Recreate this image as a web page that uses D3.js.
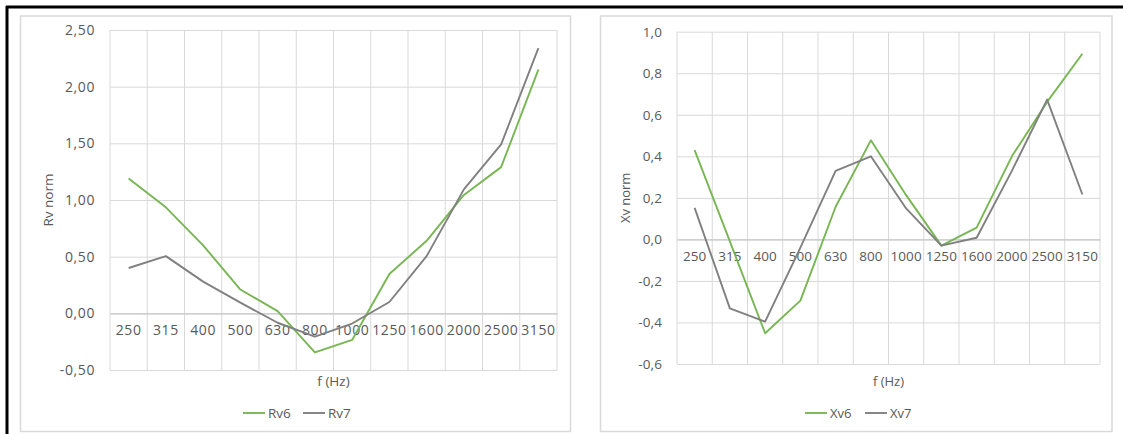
<!DOCTYPE html>
<html>
<head>
<meta charset="utf-8">
<script src="https://cdn.jsdelivr.net/npm/d3@7"></script>
<style>
  html, body { margin: 0; padding: 0; background: #fff; }
  svg { display: block; }
  text { font-family: "Open Sans", "DejaVu Sans", sans-serif; fill: #595959; }
</style>
</head>
<body>
<svg id="fig" width="1123" height="434"></svg>
<script>
// Third-octave band centre frequencies (Hz)
const categories = ["250", "315", "400", "500", "630", "800", "1000", "1250", "1600", "2000", "2500", "3150"];

// Normalised resistance
const rv6 = [1.19, 0.935, 0.60, 0.21, 0.02, -0.345, -0.235, 0.347, 0.64, 1.045, 1.29, 2.15];
const rv7 = [0.40, 0.505, 0.28, 0.094, -0.083, -0.205, -0.09, 0.10, 0.505, 1.094, 1.49, 2.34];

// Normalised reactance
const xv6 = [0.43, -0.01, -0.452, -0.295, 0.157, 0.477, 0.213, -0.03, 0.057, 0.40, 0.662, 0.894];
const xv7 = [0.152, -0.332, -0.396, -0.04, 0.33, 0.40, 0.149, -0.03, 0.008, 0.33, 0.673, 0.216];

// Value-axis ticks
const rvTicks = [-0.5, 0, 0.5, 1.0, 1.5, 2.0, 2.5];
const xvTicks = [-0.6, -0.4, -0.2, 0, 0.2, 0.4, 0.6, 0.8, 1.0];

const GREEN = "#78b654";
const GREY = "#808080";
const GRID = "#d9d9d9";

// decimal comma, plain hyphen for negatives
const locale = d3.formatLocale({ decimal: ",", thousands: ".", grouping: [3], currency: ["", ""], minus: "-" });

const svg = d3.select("#fig");

// Outer frame (top and left edges)
svg.append("line").attr("x1", 6).attr("x2", 1123).attr("y1", 7).attr("y2", 7)
  .attr("stroke", "#000").attr("stroke-width", 3);
svg.append("line").attr("x1", 7).attr("x2", 7).attr("y1", 6).attr("y2", 434)
  .attr("stroke", "#000").attr("stroke-width", 3);

function drawChart(cfg) {
  const g = svg.append("g");

  // chart area box
  g.append("rect")
    .attr("x", cfg.box[0]).attr("y", cfg.box[1])
    .attr("width", cfg.box[2] - cfg.box[0]).attr("height", cfg.box[3] - cfg.box[1])
    .attr("fill", "#fff").attr("stroke", GRID).attr("stroke-width", 1.5);

  const x = d3.scaleBand().domain(categories).range([cfg.plot.left, cfg.plot.right]).padding(0);
  const y = d3.scaleLinear().domain(cfg.domain).range([cfg.plot.bottom, cfg.plot.top]);
  const fmt = locale.format(cfg.fmt);

  // horizontal gridlines + value labels
  const yAxis = d3.axisLeft(y).tickValues(cfg.ticks).tickFormat(fmt)
    .tickSize(-(cfg.plot.right - cfg.plot.left)).tickPadding(15);
  const ya = g.append("g").attr("transform", `translate(${cfg.plot.left},0)`).call(yAxis);
  ya.select(".domain").remove();
  ya.selectAll(".tick line").attr("stroke", GRID).attr("stroke-width", 1);
  ya.selectAll(".tick text")
    .style("font-size", cfg.fontSize + "px")
    .style("letter-spacing", cfg.ls + "px")
    .attr("fill", "#595959");

  // vertical gridlines on band edges
  const edges = categories.map(c => x(c)).concat([cfg.plot.right]);
  g.append("g").selectAll("line").data(edges).join("line")
    .attr("x1", d => d).attr("x2", d => d)
    .attr("y1", cfg.plot.top).attr("y2", cfg.plot.bottom)
    .attr("stroke", GRID).attr("stroke-width", 1);

  // category axis crossing at zero
  const xAxis = d3.axisBottom(x).tickSize(0).tickPadding(12);
  const xa = g.append("g").attr("transform", `translate(0,${y(0)})`).call(xAxis);
  xa.select(".domain").attr("stroke", "#c8c8c8").attr("stroke-width", 1.3);
  xa.selectAll(".tick text")
    .style("font-size", cfg.fontSize + "px")
    .style("letter-spacing", cfg.ls + "px")
    .attr("fill", "#595959");

  // series lines
  const line = d3.line().x((d, i) => x(categories[i]) + x.bandwidth() / 2).y(d => y(d));
  cfg.series.forEach(s => {
    g.append("path").datum(s.values)
      .attr("d", line)
      .attr("fill", "none")
      .attr("stroke", s.color)
      .attr("stroke-width", 1.9)
      .attr("stroke-linejoin", "round");
  });

  // axis titles
  const cx = (cfg.plot.left + cfg.plot.right) / 2;
  const cy = (cfg.plot.top + cfg.plot.bottom) / 2;
  g.append("text")
    .attr("transform", `translate(${cfg.yTitleX},${cy}) rotate(-90)`)
    .attr("text-anchor", "middle").attr("dy", "0.35em")
    .style("font-size", (cfg.fontSize - 0.5) + "px")
    .text(cfg.yTitle);
  g.append("text")
    .attr("x", cx).attr("y", 381).attr("dy", "0.35em")
    .attr("text-anchor", "middle")
    .style("font-size", (cfg.fontSize - 0.5) + "px")
    .text("f (Hz)");

  // legend
  const lg = g.append("g").attr("transform", `translate(${cfg.legendX},413)`);
  let off = 0;
  cfg.series.forEach(s => {
    lg.append("line").attr("x1", off).attr("x2", off + 22).attr("y1", 0).attr("y2", 0)
      .attr("stroke", s.color).attr("stroke-width", 1.9);
    lg.append("text").attr("x", off + 25).attr("y", 0).attr("dy", "0.35em")
      .style("font-size", (cfg.fontSize - 0.5) + "px")
      .text(s.name);
    off += 60;
  });
}

drawChart({
  box: [20.5, 16, 570.5, 431.5],
  plot: { left: 110, right: 557, top: 30, bottom: 370 },
  domain: [-0.5, 2.5],
  ticks: rvTicks,
  fmt: ".2f",
  fontSize: 14,
  ls: 0.6,
  yTitle: "Rv norm",
  yTitleX: 48,
  legendX: 243,
  series: [
    { name: "Rv6", values: rv6, color: GREEN },
    { name: "Rv7", values: rv7, color: GREY }
  ]
});

drawChart({
  box: [600.5, 16, 1112, 431.5],
  plot: { left: 677, right: 1100, top: 31.7, bottom: 364 },
  domain: [-0.6, 1.0],
  ticks: xvTicks,
  fmt: ".1f",
  fontSize: 13.5,
  ls: 0.1,
  yTitle: "Xv norm",
  yTitleX: 625,
  legendX: 805,
  series: [
    { name: "Xv6", values: xv6, color: GREEN },
    { name: "Xv7", values: xv7, color: GREY }
  ]
});
</script>
</body>
</html>
